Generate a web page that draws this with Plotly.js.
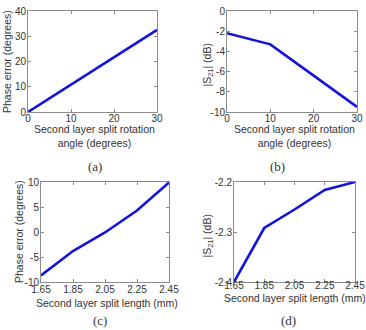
<!DOCTYPE html>
<html>
<head>
<meta charset="utf-8">
<script src="https://cdn.plot.ly/plotly-3.0.1.min.js"></script>
<style>
  html, body { margin: 0; padding: 0; background: #fff; }
  #chart { width: 366px; height: 330px; }
</style>
</head>
<body>
<div id="chart"></div>
<script>
// Rotation sweep of the second-layer split (degrees)
const rotationAngle = [0, 10, 20, 30];
const phaseErrVsAngle = [0, 10.8, 21.8, 32.5];
const s21VsAngle = [-2.2, -3.3, -6.4, -9.5];

// Length sweep of the second-layer split (mm)
const splitLength = [1.65, 1.85, 2.05, 2.25, 2.45];
const phaseErrVsLength = [-8.7, -3.8, -0.1, 4.3, 9.9];
const s21VsLength = [-2.4, -2.292, -2.255, -2.216, -2.2];

// Tick values and their printed labels (plain hyphen for negatives)
const angleTicks = [0, 10, 20, 30];
const lengthTicks = [1.65, 1.85, 2.05, 2.25, 2.45];
const phaseTicksA = [0, 10, 20, 30, 40];
const s21TicksB = [-10, -8, -6, -4, -2, 0];
const phaseTicksC = [-10, -5, 0, 5, 10];
const s21TicksD = [-2.4, -2.3, -2.2];

const W = 366, H = 330;
const px = v => v / W;
const py = v => (H - v) / H;
const label = (vals, digits) => vals.map(v => (v < 0 ? '-' : '') + Math.abs(v).toFixed(digits));

const lineStyle = { color: '#1414d8', width: 2.6 };
const FONT = 'Liberation Sans, Arial, sans-serif';

function axisBase(extra) {
  return Object.assign({
    showgrid: false,
    zeroline: false,
    showline: true,
    mirror: 'ticks',
    linecolor: '#8c8c8c',
    linewidth: 1,
    ticks: 'inside',
    ticklen: 3,
    tickcolor: '#8c8c8c',
    tickfont: { family: FONT, size: 10, color: '#333' },
    fixedrange: true
  }, extra);
}

const traces = [
  { x: rotationAngle, y: phaseErrVsAngle, xaxis: 'x', yaxis: 'y', mode: 'lines', line: lineStyle },
  { x: rotationAngle, y: s21VsAngle, xaxis: 'x2', yaxis: 'y2', mode: 'lines', line: lineStyle },
  { x: splitLength, y: phaseErrVsLength, xaxis: 'x3', yaxis: 'y3', mode: 'lines', line: lineStyle },
  { x: splitLength, y: s21VsLength, xaxis: 'x4', yaxis: 'y4', mode: 'lines', line: lineStyle }
];

const titleFont = { family: FONT, size: 10.5, color: '#333' };
const capFont = { family: 'Liberation Serif, Times New Roman, serif', size: 13, color: '#333' };

function note(text, x, y, opts) {
  return Object.assign({
    text: text, xref: 'paper', yref: 'paper', x: px(x), y: py(y),
    xanchor: 'center', yanchor: 'middle', showarrow: false, font: titleFont
  }, opts || {});
}

const layout = {
  width: W, height: H,
  margin: { l: 0, r: 0, t: 0, b: 0 },
  paper_bgcolor: '#fff', plot_bgcolor: '#fff',
  showlegend: false,
  xaxis: axisBase({ domain: [px(28), px(157)], range: [0, 30], tickvals: angleTicks, ticktext: label(angleTicks, 0), ticklabelstandoff: -3, anchor: 'y' }),
  yaxis: axisBase({ domain: [py(112), py(11)], range: [0, 40], tickvals: phaseTicksA, ticktext: label(phaseTicksA, 0), ticklabelstandoff: -1, anchor: 'x' }),
  xaxis2: axisBase({ domain: [px(227), px(357)], range: [0, 30], tickvals: angleTicks, ticktext: label(angleTicks, 0), ticklabelstandoff: -3, anchor: 'y2' }),
  yaxis2: axisBase({ domain: [py(112), py(11)], range: [-10, 0], tickvals: s21TicksB, ticktext: label(s21TicksB, 0), ticklabelstandoff: -1, anchor: 'x2' }),
  xaxis3: axisBase({ domain: [px(41), px(169)], range: [1.65, 2.45], tickvals: lengthTicks, ticktext: label(lengthTicks, 2), ticklabelstandoff: -2, anchor: 'y3' }),
  yaxis3: axisBase({ domain: [py(282), py(182)], range: [-10, 10], tickvals: phaseTicksC, ticktext: label(phaseTicksC, 0), ticklabelstandoff: -1, anchor: 'x3' }),
  xaxis4: axisBase({ domain: [px(234), px(355)], range: [1.65, 2.45], tickvals: lengthTicks, ticktext: label(lengthTicks, 2), ticklabelstandoff: -6, anchor: 'y4' }),
  yaxis4: axisBase({ domain: [py(282), py(182)], range: [-2.4, -2.2], tickvals: s21TicksD, ticktext: label(s21TicksD, 1), ticklabelstandoff: -1, anchor: 'x4' }),
  annotations: [
    // x-axis titles
    note('Second layer split rotation<br>angle (degrees)', 94, 136),
    note('Second layer split rotation<br>angle (degrees)', 294, 136),
    note('Second layer split length (mm)', 107, 302.5),
    note('Second layer split length (mm)', 295, 297.5),
    // y-axis titles
    note('Phase error (degrees)', 7, 62, { textangle: -90 }),
    note('|S<sub>21</sub>| (dB)', 207.5, 65, { textangle: -90 }),
    note('Phase error (degrees)', 19, 232, { textangle: -90 }),
    note('|S<sub>21</sub>| (dB)', 207.5, 236, { textangle: -90 }),
    // panel captions
    note('(a)', 95, 166, { font: capFont }),
    note('(b)', 277, 166, { font: capFont }),
    note('(c)', 100, 320, { font: capFont }),
    note('(d)', 288, 320, { font: capFont })
  ]
};

Plotly.newPlot('chart', traces, layout, { displayModeBar: false, staticPlot: true });
</script>
</body>
</html>
